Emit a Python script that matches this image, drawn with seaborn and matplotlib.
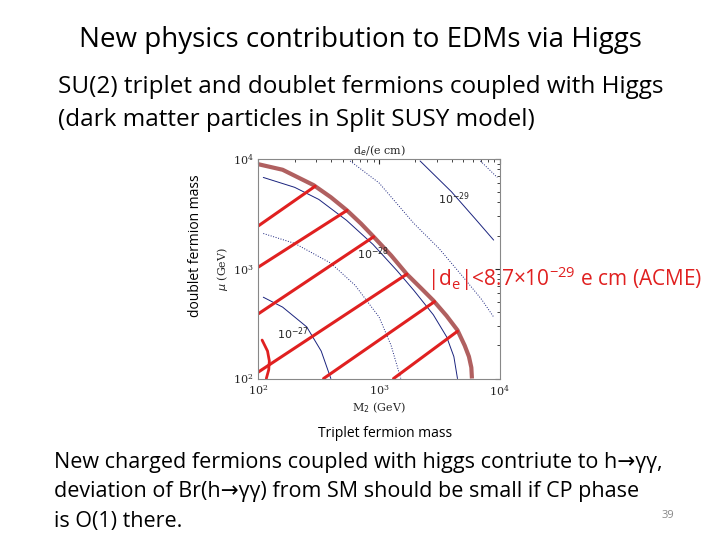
import numpy as np
import matplotlib.pyplot as plt
import seaborn as sns

# log10 coordinates (M2, mu)
boundary_m = [2.0, 2.2, 2.457, 2.6, 2.734, 2.85, 2.955, 3.1, 3.23, 3.35, 3.45, 3.56, 3.65, 3.71, 3.745, 3.765, 3.77]
boundary_mu = [3.95, 3.9, 3.76, 3.65, 3.53, 3.41, 3.29, 3.12, 2.95, 2.82, 2.71, 2.57, 2.44, 2.3, 2.2, 2.1, 2.0]

hatch_segments = [
    ((2.0, 3.39), (2.47, 3.75)),
    ((2.0, 3.015), (2.734, 3.53)),
    ((2.0, 2.59), (2.955, 3.29)),
    ((2.0, 2.06), (3.23, 2.95)),
    ((2.54, 2.0), (3.46, 2.70)),
    ((3.12, 2.0), (3.65, 2.43)),
]
bracket_m = [2.03, 2.075, 2.09, 2.085, 2.065]
bracket_mu = [2.35, 2.25, 2.16, 2.08, 2.0]

contours = [
    ([2.04, 2.2, 2.4, 2.52, 2.6], [2.74, 2.65, 2.47, 2.25, 2.0], '-'),
    ([2.04, 2.3, 2.6, 2.8, 3.0, 3.1, 3.18], [3.32, 3.23, 3.05, 2.85, 2.56, 2.3, 2.0], ':'),
    ([2.04, 2.3, 2.5, 2.73, 2.95, 3.15, 3.29, 3.45, 3.56, 3.62, 3.65],
     [3.83, 3.74, 3.63, 3.44, 3.22, 2.98, 2.8, 2.58, 2.38, 2.2, 2.0], '-'),
    ([2.76, 3.0, 3.29, 3.5, 3.70, 3.85, 3.95], [3.98, 3.78, 3.41, 3.18, 2.92, 2.72, 2.56], ':'),
    ([3.34, 3.6, 3.8, 3.95], [3.98, 3.7, 3.45, 3.26], '-'),
    ([3.84, 3.98], [3.98, 3.83], ':'),
]
contour_labels = [(3.62, 3.64, r'$10^{-29}$'), (2.95, 3.14, r'$10^{-28}$'), (2.29, 2.41, r'$10^{-27}$')]

sns.set_style('white')
plt.rcParams['font.family'] = ['Open Sans', 'DejaVu Sans']

fig = plt.figure(figsize=(7.2, 5.4), dpi=100)
ax = fig.add_axes([0.359, 0.299, 0.335, 0.407])

for xs, ys, ls in contours:
    ax.plot(10 ** np.array(xs), 10 ** np.array(ys), color='#1a237e', lw=0.7, ls=ls)
for x, y, t in contour_labels:
    ax.text(10 ** x, 10 ** y, t, fontsize=8, family='DejaVu Serif', ha='center', va='center')

ax.plot(10 ** np.array(boundary_m), 10 ** np.array(boundary_mu), color='#b06060', lw=3, solid_capstyle='butt')
for (x0, y0), (x1, y1) in hatch_segments:
    ax.plot([10 ** x0, 10 ** x1], [10 ** y0, 10 ** y1], color='#e02020', lw=2.2)
ax.plot(10 ** np.array(bracket_m), 10 ** np.array(bracket_mu), color='#e02020', lw=2)

ax.set_xscale('log')
ax.set_yscale('log')
ax.set_xlim(100, 1e4)
ax.set_ylim(100, 1e4)
ax.tick_params(which='both', direction='in', top=True, right=True, labelsize=8)
ax.set_xticks([1e2, 1e3, 1e4])
ax.set_yticks([1e2, 1e3, 1e4])
for lab in ax.get_xticklabels() + ax.get_yticklabels():
    lab.set_family('DejaVu Serif')
for s in ax.spines.values():
    s.set_color('#888888')
    s.set_linewidth(0.8)
ax.set_xlabel(r'M$_2$ (GeV)', fontsize=8, family='DejaVu Serif', labelpad=2)
ax.set_ylabel(r'$\mu$ (GeV)', fontsize=8, family='DejaVu Serif', labelpad=2)
ax.set_title(r'd$_e$/(e cm)', fontsize=8, family='DejaVu Serif', pad=3)

fig.text(0.5, 0.926, 'New physics contribution to EDMs via Higgs', fontsize=20, ha='center', va='center', color='black')
fig.text(0.08, 0.838, 'SU(2) triplet and doublet fermions coupled with Higgs', fontsize=17.5, ha='left', va='center', color='black')
fig.text(0.08, 0.778, '(dark matter particles in Split SUSY model)', fontsize=17.5, ha='left', va='center', color='black')
fig.text(0.272, 0.545, 'doublet fermion mass', fontsize=10, rotation=90, ha='center', va='center', color='black')
fig.text(0.535, 0.198, 'Triplet fermion mass', fontsize=10, ha='center', va='center', color='black')
fig.text(0.593, 0.483, r'|d$_\mathregular{e}$|<8.7×10$^{\mathregular{-29}}$ e cm (ACME)', fontsize=15,
         color='#e02020', ha='left', va='center')
fig.text(0.075, 0.143, 'New charged fermions coupled with higgs contriute to h→γγ,', fontsize=15.5, ha='left', va='center', color='black')
fig.text(0.075, 0.089, 'deviation of Br(h→γγ) from SM should be small if CP phase', fontsize=15.5, ha='left', va='center', color='black')
fig.text(0.075, 0.035, 'is O(1) there.', fontsize=15.5, ha='left', va='center', color='black')
fig.text(0.928, 0.046, '39', fontsize=8, color='#888888', ha='center', va='center')

fig.savefig('out.png', dpi=100)
